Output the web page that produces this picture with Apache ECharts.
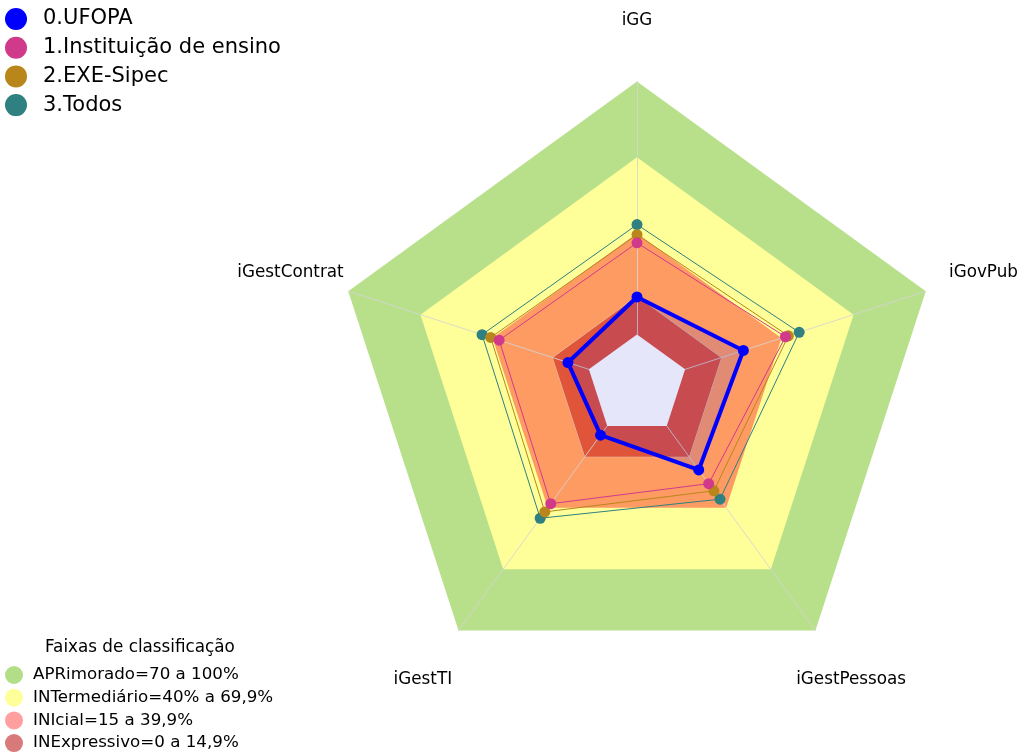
<!DOCTYPE html>
<html>
<head>
<meta charset="utf-8">
<script src="https://cdn.jsdelivr.net/npm/echarts@6/dist/echarts.min.js"></script>
<style>
html,body{margin:0;padding:0;background:#fff;}
#chart{width:1021px;height:753px;}
</style>
</head>
<body>
<div id="chart"></div>
<script>
// ---- data (clockwise from top) ----
const indicators = ['iGG', 'iGovPub', 'iGestPessoas', 'iGestTI', 'iGestContrat'];
const ufopa       = [14.8, 24.2, 21.5, 4.5, 8.7];
const instituicao = [36.2, 41.7, 28.2, 38.0, 37.3];
const exeSipec    = [39.4, 42.9, 31.7, 42.0, 40.8];
const todos       = [43.4, 47.4, 35.8, 45.1, 44.4];
const seriesNames = ['0.UFOPA', '1.Instituição de ensino', '2.EXE-Sipec', '3.Todos'];
const bandNames   = ['APRimorado=70 a 100%', 'INTermediário=40% a 69,9%', 'INIcial=15 a 39,9%', 'INExpressivo=0 a 14,9%'];
const bandLimits  = [100, 70, 40, 15];
const centerValue = 0;
const axisMin = -20, axisMax = 100;
const legendTitle = 'Faixas de classificação';

// ---- styles ----
const FONT = 'DejaVu Sans';
const cx = 637, cy = 385, R = 303.6;
const seriesColors = ['#0000ff', '#d13a8a', '#b8861b', '#2f8080'];
const bandFill   = ['#b8e08b', '#ffff99', '#fd9b63', '#e0553a'];
const bandLegend = ['#b2de87', '#ffff99', '#ff9f9f', '#d97a7a'];
const gridLine = 'rgba(212,212,212,0.85)';

// ECharts radar places indicators counter-clockwise; reorder so display is clockwise
const order = [0, 4, 3, 2, 1];
const reorder = arr => order.map(i => arr[i]);

const dataSets = [ufopa, instituicao, exeSipec, todos];

const series = [];
bandNames.forEach((name, k) => {
  series.push({
    type: 'radar', name: name, z: 1, silent: true, symbol: 'none',
    itemStyle: { color: bandLegend[k] },
    lineStyle: k === 3 ? { color: gridLine, width: 1 } : { width: 0, opacity: 0 },
    areaStyle: { color: bandFill[k], opacity: 1 },
    data: [{ value: indicators.map(() => bandLimits[k]) }]
  });
});
// draw order: Todos first, UFOPA last
[3, 2, 1, 0].forEach(k => {
  series.push({
    type: 'radar', name: seriesNames[k], z: 3, symbol: 'circle',
    symbolSize: 11,
    itemStyle: { color: seriesColors[k] },
    lineStyle: { color: seriesColors[k], width: k === 0 ? 4 : 1 },
    areaStyle: k === 0 ? { color: 'rgba(0,0,255,0.11)', opacity: 1 } : undefined,
    data: [{ value: reorder(dataSets[k]) }]
  });
});
series.push({
  type: 'radar', name: 'centro', z: 4, silent: true, symbol: 'none',
  lineStyle: { width: 0, opacity: 0 },
  areaStyle: { color: '#e6e6fa', opacity: 1 },
  data: [{ value: indicators.map(() => centerValue) }]
});

// axis name labels at 1.2 R, clockwise from top
const labelGraphics = indicators.map((name, i) => {
  const a = i * 2 * Math.PI / indicators.length;
  return {
    type: 'text', z: 10,
    x: cx + 1.2 * R * Math.sin(a),
    y: cy - 1.2 * R * Math.cos(a),
    style: { text: name, fill: '#000', font: '16.8px "' + FONT + '"', align: 'center', verticalAlign: 'middle' }
  };
});

const chart = echarts.init(document.getElementById('chart'), null, { renderer: 'canvas', width: 1021, height: 753 });
chart.setOption({
  backgroundColor: '#fff',
  animation: false,
  title: {
    text: legendTitle, left: 45, top: 639, padding: 0,
    textStyle: { fontFamily: FONT, fontSize: 16.8, fontWeight: 'normal', color: '#000' }
  },
  legend: [
    {
      data: seriesNames, orient: 'vertical', left: 5, top: 8, padding: 0,
      icon: 'circle', itemWidth: 30, itemHeight: 22, itemGap: 6.7,
      selectedMode: false,
      textStyle: { fontFamily: FONT, fontSize: 21, color: '#000', padding: [0, 0, 0, 7] }
    },
    {
      data: bandNames, orient: 'vertical', left: 5, top: 666, padding: 0, height: 90,
      icon: 'circle', itemWidth: 28, itemHeight: 18, itemGap: 4.7,
      selectedMode: false,
      textStyle: { fontFamily: FONT, fontSize: 16.7, color: '#000' }
    }
  ],
  radar: {
    center: [cx, cy], radius: R, startAngle: 90, shape: 'polygon', z: 2,
    indicator: reorder(indicators).map(n => ({ name: n, min: axisMin, max: axisMax })),
    axisName: { show: false },
    splitNumber: 6,
    splitLine: { show: false },
    splitArea: { show: false },
    axisLine: { show: true, lineStyle: { color: gridLine, width: 1 } },
    axisTick: { show: false },
    axisLabel: { show: false }
  },
  graphic: labelGraphics,
  series: series
});
</script>
</body>
</html>
